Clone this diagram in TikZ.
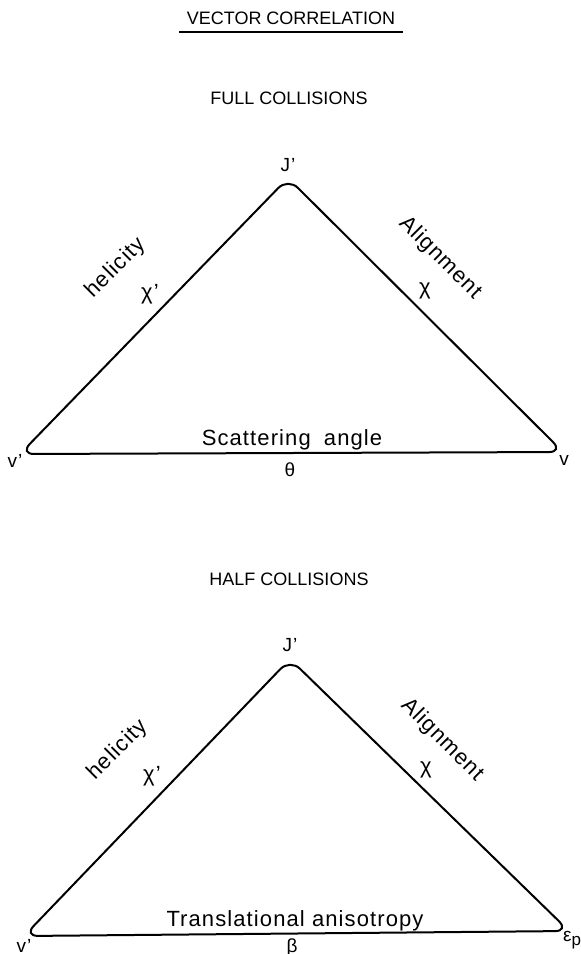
\documentclass[tikz,border=0pt]{standalone}
\usepackage{fontspec}
\setmainfont[LetterSpace=5]{Liberation Sans}
\newfontfamily\headfont{Liberation Sans}

\begin{document}
\begin{tikzpicture}[x=0.5pt, y=-0.5pt, line width=1pt,
    heading/.style={font=\headfont\fontsize{9}{11}\selectfont},
    sidelabel/.style={font=\fontsize{11}{13}\selectfont},
    vertexlabel/.style={font=\fontsize{9.5}{11}\selectfont}]
\useasboundingbox (0,0) rectangle (580,954);

\node[heading] (title) at (291,18) {VECTOR CORRELATION};
\draw[line width=0.8pt] (title.south west) -- (title.south east);

% full collisions
\node[heading] (full) at (289,98) {FULL COLLISIONS};
\coordinate (apexF) at (288,178);
\coordinate (leftF) at (20,454);
\coordinate (rightF) at (563,452);
\draw[rounded corners=7pt] (leftF) -- (apexF) -- (rightF) -- cycle;

\node[vertexlabel] (jF) at (288,165) {J’};
\node[vertexlabel] (vpF) at (15,461) {v’};
\node[vertexlabel] (vF) at (564,460) {v};
\node[vertexlabel] (thetaF) at (290,470) {θ};
\node[sidelabel] (angleF) at (292,440) {Scattering\hspace{0.6em}angle};
\node[sidelabel, rotate=45] (helF) at (116,268) {helicity};
\node[sidelabel] (chipF) at (150,294) {χ’};
\node[sidelabel, rotate=-45] (alF) at (440,258) {Alignment};
\node[sidelabel] (chiF) at (425,291) {χ};

% half collisions
\node[heading] (half) at (289,579) {HALF COLLISIONS};
\coordinate (apexH) at (290,659);
\coordinate (leftH) at (24,936);
\coordinate (rightH) at (569,931);
\draw[rounded corners=7pt] (leftH) -- (apexH) -- (rightH) -- cycle;

\node[vertexlabel] (jH) at (290,645) {J’};
\node[vertexlabel] (vpH) at (24,946) {v’};
\node[vertexlabel] (epH) at (572,940) {ε\raisebox{-0.35ex}{\fontsize{8.5}{9}\selectfont p}};
\node[vertexlabel] (betaH) at (292,948) {β};
\node[sidelabel] (anisoH) at (295,921) {Translational anisotropy};
\node[sidelabel, rotate=45] (helH) at (118,750) {helicity};
\node[sidelabel] (chipH) at (152,776) {χ’};
\node[sidelabel, rotate=-45] (alH) at (442,740) {Alignment};
\node[sidelabel] (chiH) at (426,770) {χ};
\end{tikzpicture}
\end{document}
